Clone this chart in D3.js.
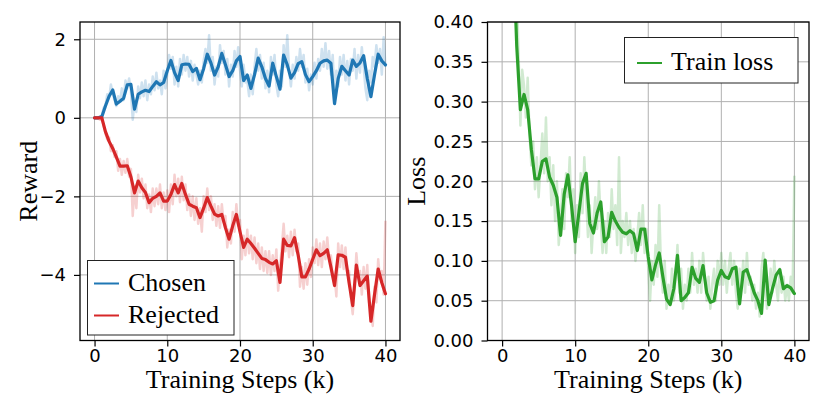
<!DOCTYPE html>
<html><head><meta charset="utf-8">
<script src="https://cdn.jsdelivr.net/npm/d3@7"></script>
<style>
html,body{margin:0;padding:0;background:#fff;}
svg{display:block;}
</style></head>
<body>
<svg id="chart" width="830" height="413"></svg>
<script>
// ---------- DATA ----------
const boldStep = 0.5;   // k steps between smoothed points
const rawStep = 0.25;   // k steps between raw points
const xTicks = [0, 10, 20, 30, 40];
const xTickLabels = ["0", "10", "20", "30", "40"];
const rewardTicks = [-4, -2, 0, 2];
const rewardTickLabels = ["\u22124", "\u22122", "0", "2"];
const lossTicks = [0, 0.05, 0.10, 0.15, 0.20, 0.25, 0.30, 0.35, 0.40];
const lossTickLabels = ["0.00","0.05","0.10","0.15","0.20","0.25","0.30","0.35","0.40"];
const seriesNames = ["Chosen", "Rejected", "Train loss"];

const chosenBold = [0,0,0.03,0.3,0.55,0.71,0.35,0.42,0.5,0.84,0.85,0.22,0.6,0.66,0.7,0.67,0.8,0.92,0.84,0.9,
  1.2,1.46,1.15,0.95,1.35,1.37,1.36,1.18,1.26,0.97,1.25,1.62,1.4,1.09,1.3,1.64,1.35,1.05,1.2,1.45,
  1.56,0.95,1.09,0.75,1.1,1.52,1.3,1.0,0.81,1.39,1.05,0.73,1.6,1.35,1.01,1.15,1.38,1.43,1.1,0.92,
  1.05,1.2,1.39,1.45,1.47,1.39,0.36,1.0,1.31,1.2,1.09,1.47,1.31,1.4,1.58,1.0,0.54,1.1,1.62,1.45,1.35];

const rejectedBold = [0,0,0,-0.35,-0.6,-0.78,-1.0,-1.23,-1.23,-1.22,-1.5,-1.91,-1.61,-1.78,-1.9,-2.16,-2.05,-2.0,-1.91,-2.12,
  -2.12,-1.95,-1.70,-1.91,-1.67,-1.95,-2.2,-2.25,-2.29,-2.54,-2.3,-2.03,-2.25,-2.45,-2.5,-2.46,-2.8,-3.09,-2.75,-2.46,
  -2.9,-3.30,-3.09,-3.2,-3.32,-3.45,-3.58,-3.61,-3.68,-3.72,-3.64,-4.19,-3.09,-3.25,-3.26,-3.05,-3.5,-4.05,-4.05,-3.85,
  -3.6,-3.36,-3.51,-3.45,-3.36,-3.8,-4.27,-3.49,-3.5,-3.55,-4.2,-4.78,-3.75,-4.27,-4.15,-4.03,-5.18,-4.5,-3.85,-4.2,-4.48];

const lossBold = [0.69,0.65,0.6,0.5,0.37,0.29,0.309,0.29,0.24,0.203,0.203,0.225,0.228,0.205,0.195,0.18,0.132,0.184,0.208,0.17,
  0.124,0.16,0.197,0.21,0.147,0.135,0.16,0.174,0.124,0.13,0.161,0.15,0.142,0.136,0.134,0.138,0.134,0.113,0.14,0.14,
  0.105,0.076,0.095,0.11,0.08,0.052,0.045,0.065,0.107,0.05,0.054,0.06,0.092,0.078,0.073,0.094,0.06,0.048,0.05,0.076,
  0.088,0.08,0.078,0.09,0.092,0.046,0.086,0.089,0.075,0.06,0.05,0.034,0.101,0.045,0.065,0.082,0.089,0.065,0.069,0.066,0.059];

const chosenRaw = [0,0,0,0.02, 0.05,0.25,0.32,0.6, 0.5,0.85,0.62,0.45, 0.3,0.55,0.4,0.75, 0.45,0.95,0.75,1.0,
  0.7,-0.05,0.4,0.15, 0.8,0.5,0.9,0.55, 0.95,0.45,0.85,0.6, 1.05,0.7,1.15,0.75, 0.95,0.6,1.2,0.75,
  1.1,1.6,1.25,1.55, 0.85,1.3,0.8,1.5, 1.1,1.6,1.2,1.55, 1.05,1.45,0.95,1.35, 1.1,0.85,1.2,0.9,
  1.45,1.75,1.4,2.1, 1.2,1.55,0.85,1.3, 1.05,1.85,1.4,1.7, 1.1,1.5,0.8,1.35, 1.05,1.7,1.3,1.8,
  1.2,0.8,1.35,0.9, 0.95,0.55,1.1,0.6, 1.3,1.75,1.2,1.6, 1.0,1.4,0.75,1.2, 0.65,1.55,1.1,1.6,
  0.85,0.55,1.2,0.8, 1.85,1.3,2.1,1.2, 0.8,1.35,1.0,1.55, 1.2,1.75,1.3,1.6, 0.9,1.25,0.7,1.1,
  0.85,1.4,1.0,1.5, 1.2,1.75,1.3,1.9, 1.25,1.7,1.1,1.6, 0.45,1.2,0.8,1.55, 1.1,1.6,0.95,1.45,
  0.85,1.5,1.2,1.75, 1.0,1.6,1.15,1.8, 1.3,0.75,0.45,1.2, 0.9,1.55,1.3,1.85, 1.4,1.75,1.1,2.05, 1.3];

const rejectedRaw = [0,0,0,-0.05, 0.02,-0.2,-0.4,-0.55, -0.5,-0.85,-0.7,-1.0, -0.85,-1.35,-1.05,-1.45, -1.1,-1.4,-1.05,-1.5,
  -1.3,-2.5,-1.75,-2.3, -1.45,-1.9,-1.55,-2.05, -1.7,-2.3,-1.95,-2.4, -1.8,-2.25,-1.8,-2.2, -1.7,-2.3,-1.9,-2.35,
  -1.85,-2.4,-1.7,-2.2, -1.45,-2.0,-1.55,-2.15, -1.5,-2.1,-1.7,-2.35, -1.95,-2.5,-2.0,-2.6, -2.05,-2.7,-2.3,-2.9,
  -2.0,-2.4,-1.8,-2.35, -2.0,-2.6,-2.2,-2.75, -2.25,-2.8,-2.2,-2.65, -2.5,-3.3,-2.85,-3.2, -2.4,-2.9,-2.2,-2.75,
  -2.6,-3.6,-3.0,-3.5, -2.85,-3.45,-3.0,-3.6, -3.05,-3.7,-3.2,-3.85, -3.3,-3.9,-3.4,-3.95, -3.4,-4.0,-3.5,-3.9,
  -3.35,-4.4,-3.8,-3.3, -2.7,-3.4,-3.0,-3.55, -2.9,-3.5,-2.85,-3.4, -3.2,-4.3,-3.8,-4.35, -3.7,-4.25,-3.6,-4.05,
  -3.3,-3.7,-3.1,-3.75, -3.2,-3.8,-3.15,-3.6, -3.05,-3.6,-3.5,-4.05, -4.0,-4.55,-3.2,-3.8, -3.25,-3.85,-3.3,-4.0,
  -3.9,-4.6,-5.0,-4.3, -3.45,-4.0,-3.9,-4.5, -3.8,-4.35,-3.75,-4.7, -4.9,-5.3,-4.3,-4.7, -3.6,-4.1,-3.9,-4.5, -2.62];

const lossRaw = [0.69,0.68,0.66,0.64, 0.62,0.6,0.57,0.54, 0.44,0.36,0.27,0.34, 0.32,0.28,0.33,0.26, 0.22,0.25,0.19,0.23,
  0.18,0.22,0.26,0.21, 0.28,0.2,0.23,0.17, 0.22,0.15,0.2,0.12, 0.15,0.19,0.14,0.21, 0.18,0.23,0.15,0.19,
  0.11,0.17,0.13,0.21, 0.16,0.23,0.18,0.13, 0.17,0.11,0.15,0.18, 0.14,0.2,0.15,0.11, 0.15,0.11,0.16,0.13,
  0.19,0.14,0.17,0.12, 0.23,0.11,0.15,0.13, 0.16,0.12,0.15,0.11, 0.14,0.1,0.13,0.16, 0.12,0.17,0.11,0.14,
  0.09,0.05,0.1,0.07, 0.12,0.08,0.17,0.09, 0.06,0.1,0.04,0.07, 0.05,0.09,0.05,0.08, 0.12,0.06,0.09,0.04,
  0.07,0.05,0.09,0.06, 0.11,0.07,0.09,0.06, 0.1,0.06,0.11,0.08, 0.05,0.08,0.04,0.07, 0.09,0.05,0.1,0.07,
  0.11,0.07,0.1,0.06, 0.09,0.11,0.07,0.1, 0.06,0.04,0.09,0.07, 0.1,0.06,0.11,0.07, 0.08,0.05,0.07,0.04,
  0.06,0.03,0.09,0.11, 0.07,0.04,0.06,0.09, 0.06,0.1,0.07,0.05, 0.09,0.06,0.08,0.05, 0.07,0.05,0.08,0.06, 0.207];

// ---------- STYLE ----------
const colors = {chosen: "#1f77b4", rejected: "#d62728", loss: "#2ca02c"};
const tickFont = "'DejaVu Sans', sans-serif";
const labelFont = "'Liberation Serif', 'Times New Roman', serif";

const svg = d3.select("#chart");

function panel(cfg) {
  const {x0, x1, y0, y1, yDomain, yTicks, yTickLabels, ylabel, ylabelX, id} = cfg;
  const x = d3.scaleLinear().domain([-2, 42]).range([x0, x1]);
  const y = d3.scaleLinear().domain(yDomain).range([y1, y0]);
  const g = svg.append("g");

  g.append("clipPath").attr("id", id).append("rect")
    .attr("x", x0).attr("y", y0).attr("width", x1 - x0).attr("height", y1 - y0);

  // grid
  const grid = g.append("g").attr("stroke", "#b0b0b0").attr("stroke-width", 1);
  xTicks.forEach(t => grid.append("line").attr("x1", x(t)).attr("x2", x(t)).attr("y1", y0).attr("y2", y1));
  yTicks.forEach(t => grid.append("line").attr("x1", x0).attr("x2", x1).attr("y1", y(t)).attr("y2", y(t)));

  const plot = g.append("g").attr("clip-path", `url(#${id})`);

  // axes
  const xAxis = d3.axisBottom(x).tickValues(xTicks).tickFormat((d, i) => xTickLabels[i]).tickSize(6).tickPadding(3);
  const yAxis = d3.axisLeft(y).tickValues(yTicks).tickFormat((d, i) => yTickLabels[i]).tickSize(6).tickPadding(8);
  const ax = g.append("g").attr("transform", `translate(0,${y1})`).call(xAxis);
  const ay = g.append("g").attr("transform", `translate(${x0},0)`).call(yAxis);
  [ax, ay].forEach(a => {
    a.select(".domain").remove();
    a.selectAll("line").attr("stroke", "#000").attr("stroke-width", 1.2);
    a.selectAll("text").attr("font-family", tickFont).attr("font-size", 18).attr("fill", "#000");
  });

  // frame
  g.append("rect").attr("x", x0).attr("y", y0).attr("width", x1 - x0).attr("height", y1 - y0)
    .attr("fill", "none").attr("stroke", "#000").attr("stroke-width", 1.3);

  // labels
  g.append("text").attr("x", (x0 + x1) / 2).attr("y", 388).attr("text-anchor", "middle")
    .attr("font-family", labelFont).attr("font-size", 26).text("Training Steps (k)");
  g.append("text").attr("transform", `translate(${ylabelX},${(y0 + y1) / 2}) rotate(-90)`)
    .attr("text-anchor", "middle").attr("font-family", labelFont).attr("font-size", 26).text(ylabel);

  return {x, y, plot, g};
}

function drawSeries(p, raw, bold, color) {
  const lineRaw = d3.line().x((d, i) => p.x(i * rawStep)).y(d => p.y(d));
  const lineBold = d3.line().x((d, i) => p.x(i * boldStep)).y(d => p.y(d));
  p.plot.append("path").attr("d", lineRaw(raw)).attr("fill", "none")
    .attr("stroke", color).attr("stroke-opacity", 0.22).attr("stroke-width", 2.5).attr("stroke-linejoin", "round");
  p.plot.append("path").attr("d", lineBold(bold)).attr("fill", "none")
    .attr("stroke", color).attr("stroke-width", 3.2).attr("stroke-linejoin", "round").attr("stroke-linecap", "round");
}

// Left panel
const left = panel({x0: 80, x1: 400, y0: 22, y1: 340.5, yDomain: [-5.67, 2.44],
  yTicks: rewardTicks, yTickLabels: rewardTickLabels, ylabel: "Reward", ylabelX: 37, id: "clipL"});
drawSeries(left, chosenRaw, chosenBold, colors.chosen);
drawSeries(left, rejectedRaw, rejectedBold, colors.rejected);

// Right panel
const right = panel({x0: 487.5, x1: 809, y0: 22, y1: 340.5, yDomain: [0, 0.40],
  yTicks: lossTicks, yTickLabels: lossTickLabels, ylabel: "Loss", ylabelX: 425, id: "clipR"});
drawSeries(right, lossRaw, lossBold, colors.loss);

// Legends
function legend(x, y, w, h, items) {
  const g = svg.append("g");
  g.append("rect").attr("x", x).attr("y", y).attr("width", w).attr("height", h)
    .attr("fill", "#fff").attr("stroke", "#222").attr("stroke-width", 1);
  items.forEach(it => {
    const cy = it.cy;
    g.append("line").attr("x1", it.lx).attr("x2", it.lx + 25).attr("y1", cy).attr("y2", cy)
      .attr("stroke", it.color).attr("stroke-width", 2);
    g.append("text").attr("x", it.lx + 34).attr("y", cy + 7).attr("font-family", labelFont)
      .attr("font-size", 26).text(it.name);
  });
}
legend(87.5, 260.5, 146.5, 74.5, [
  {name: seriesNames[0], color: colors.chosen, cy: 283.5, lx: 94},
  {name: seriesNames[1], color: colors.rejected, cy: 315.5, lx: 94}
]);
legend(624.5, 37.5, 173.5, 45.5, [
  {name: seriesNames[2], color: colors.loss, cy: 63, lx: 637}
]);
</script>
</body></html>
